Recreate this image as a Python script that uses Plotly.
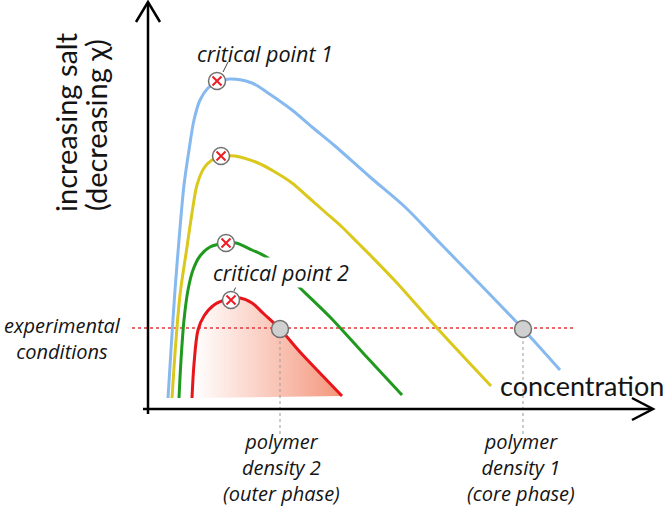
import plotly.graph_objects as go

# ---- schematic data (arbitrary units: concentration, salt) ----
blue_x = [20, 23, 27, 31, 36, 41, 46, 52, 60, 69, 82, 104, 120, 144, 164, 187, 222, 257, 289, 327, 375, 412]
blue_y = [11, 59, 119, 169, 224, 259, 289, 309, 321, 327, 330, 326, 316, 299, 282, 263, 232, 202, 169, 130, 80, 39]

yellow_x = [24, 28, 32, 39, 44, 49, 56, 64, 73, 87, 110, 127, 144, 160, 177, 194, 210, 224, 249, 289, 343]
yellow_y = [11, 69, 114, 162, 196, 224, 241, 249, 253, 253, 246, 237, 226, 212, 197, 182, 166, 152, 126, 81, 23]

green_x = [31, 33, 36, 40, 45, 52, 62, 78, 88, 104, 120, 152, 182, 215, 254]
green_y = [11, 49, 89, 119, 139, 153, 162, 166, 166, 159, 151, 121, 92, 56, 14]

red_x = [44, 46, 50, 56, 66, 80, 92, 104, 116, 132, 152, 169, 194]
red_y = [11, 45, 79, 93, 104, 110, 111, 106, 95, 80, 57, 39, 13]

crit_x = [69, 73, 78, 83]
crit_y = [328, 253, 166, 109]

exp_level = 81
exp_x = [-16, 428]

dens_x = [132, 375]
dens_y = [80, 80]
dens_bottom = -26

FONT = "Lato"
IFONT = "Open Sans"
BLUE = "#86b9ef"
YELLOW = "#dbc81c"
GREEN = "#1f9a1f"
RED = "#e8151b"

fig = go.Figure()

# gradient fill under red curve
fig.add_trace(go.Scatter(
    x=red_x, y=red_y, mode="lines", line=dict(width=0, shape="spline"),
    fill="toself",
    fillgradient=dict(type="horizontal", start=46, stop=194,
                      colorscale=[[0, "rgba(255,255,255,1)"], [1, "rgba(244,150,124,1)"]]),
    hoverinfo="skip", showlegend=False))

# experimental conditions line
fig.add_trace(go.Scatter(x=exp_x, y=[exp_level, exp_level], mode="lines",
                         line=dict(color="#e0393c", width=1.5, dash="dot"),
                         showlegend=False, hoverinfo="skip"))

# vertical density guides
for xv, yv in zip(dens_x, dens_y):
    fig.add_trace(go.Scatter(x=[xv, xv], y=[yv, dens_bottom], mode="lines",
                             line=dict(color="#9a9a9a", width=1, dash="dot"),
                             showlegend=False, hoverinfo="skip"))

for xs, ys, c in [(blue_x, blue_y, BLUE), (yellow_x, yellow_y, YELLOW),
                  (green_x, green_y, GREEN), (red_x, red_y, RED)]:
    fig.add_trace(go.Scatter(x=xs, y=ys, mode="lines",
                             line=dict(color=c, width=3, shape="spline", smoothing=0.9),
                             showlegend=False, hoverinfo="skip"))

# density markers
fig.add_trace(go.Scatter(x=dens_x, y=dens_y, mode="markers",
                         marker=dict(symbol="circle", size=17, color="#d0d0d0",
                                     line=dict(color="#707070", width=1.5)),
                         showlegend=False, hoverinfo="skip"))

# critical point markers
fig.add_trace(go.Scatter(x=crit_x, y=crit_y, mode="markers",
                         marker=dict(symbol="circle", size=17, color="white",
                                     line=dict(color="#707070", width=1.5)),
                         showlegend=False, hoverinfo="skip"))
fig.add_trace(go.Scatter(x=crit_x, y=crit_y, mode="markers",
                         marker=dict(symbol="x-thin", size=9,
                                     line=dict(color="#ee1c24", width=2)),
                         showlegend=False, hoverinfo="skip"))

shapes = []
AX = dict(type="line", xref="x", yref="y", line=dict(color="black", width=2.5))
# axes
shapes.append(dict(AX, x0=0, y0=-5, x1=0, y1=406))
shapes.append(dict(AX, x0=-5, y0=0, x1=504, y1=0))
# arrow heads
shapes.append(dict(type="path", xref="x", yref="y",
                   path="M -12 387 L 0 407 L 12 387", line=dict(color="black", width=2.5)))
shapes.append(dict(type="path", xref="x", yref="y",
                   path="M 484 11 L 505 0 L 484 -11", line=dict(color="black", width=2.5)))
# leader lines
shapes.append(dict(type="line", xref="x", yref="y", x0=80, y0=347, x1=75, y1=337,
                   line=dict(color="#444", width=1)))
shapes.append(dict(type="line", xref="x", yref="y", x0=90, y0=127, x1=86, y1=118,
                   line=dict(color="#444", width=1)))

ann = []
def A(text, x, y, size=20, italic=True, family=IFONT, **kw):
    d = dict(text=(f"<i>{text}</i>" if italic else text), x=x, y=y, xref="x", yref="y",
             showarrow=False, font=dict(family=family, size=size, color="#141414"))
    d.update(kw)
    ann.append(d)

A("critical point 1", 117, 356, size=21.5)
A("critical point 2", 133, 137, size=21.5, bgcolor="white", borderpad=0)
A("experimental<br>conditions", -86, 71)
A("polymer<br>density 2<br>(outer phase)", 133, -58)
A("polymer<br>density 1<br>(core phase)", 373, -58)
A("concentration", 350, 24, size=27, italic=False, family=FONT, xanchor="left")
A("increasing salt", -83, 287, size=29, italic=False, family=FONT, textangle=-90)
A("(decreasing χ)", -53, 284, size=29, italic=False, family=FONT, textangle=-90)

fig.update_layout(
    width=666, height=507, margin=dict(l=0, r=0, t=0, b=0),
    paper_bgcolor="white", plot_bgcolor="white",
    xaxis=dict(range=[-148, 518], visible=False, fixedrange=True),
    yaxis=dict(range=[-98, 409], visible=False, fixedrange=True),
    shapes=shapes, annotations=ann, showlegend=False,
)

fig.write_html("out.html", config={"displayModeBar": False},
               post_script="document.body.style.margin='0';document.body.style.overflow='hidden';")
